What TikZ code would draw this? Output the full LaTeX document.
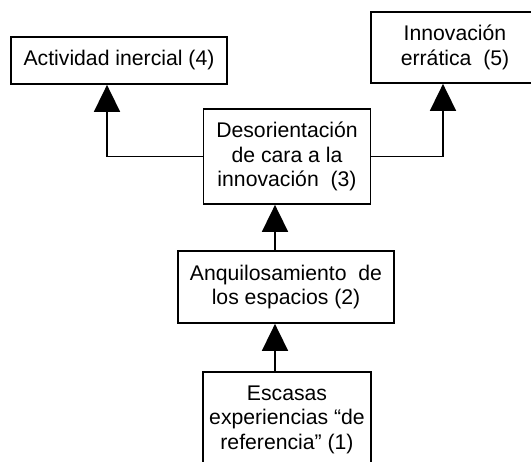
\documentclass[tikz,border=0pt]{standalone}
\usepackage{fontspec}
\setmainfont{Liberation Sans}
\usetikzlibrary{arrows.meta}
\begin{document}
\begin{tikzpicture}[x=1pt,y=-1pt,
  box/.style={draw=black,line width=1.8pt,inner sep=0pt,align=center,
    font=\fontsize{21.2}{24.5}\selectfont},
  arr/.style={line width=1.8pt,-{Triangle[width=26pt,length=27pt]}}]
\useasboundingbox (0,0) rectangle (531,462);
\node[box,minimum width=216pt,minimum height=47pt] (b4) at (119,60.5) {Actividad inercial (4)};
\node[box,minimum width=168pt,minimum height=71pt] (b5) at (455,47.5) {Innovación\\errática~~(5)};
\node[box,minimum width=167pt,minimum height=95pt] (b3) at (287,156.5) {Desorientación\\de cara a la\\innovación~~(3)};
\node[box,minimum width=216pt,minimum height=72pt] (b2) at (286,287) {Anquilosamiento~~de\\los espacios (2)};
\node[box,minimum width=168pt,minimum height=95pt] (b1) at (287,419.5) {Escasas\\experiencias “de\\referencia” (1)};
\draw[arr] ([xshift=-12pt]b1.north) -- ([xshift=-11pt]b2.south);
\draw[arr] ([xshift=-11pt]b2.north) -- ([xshift=-12pt]b3.south);
\draw[arr] (b3.west) -| ([xshift=-12pt]b4.south);
\draw[arr] (b3.east) -| ([xshift=-12pt]b5.south);
\end{tikzpicture}
\end{document}
